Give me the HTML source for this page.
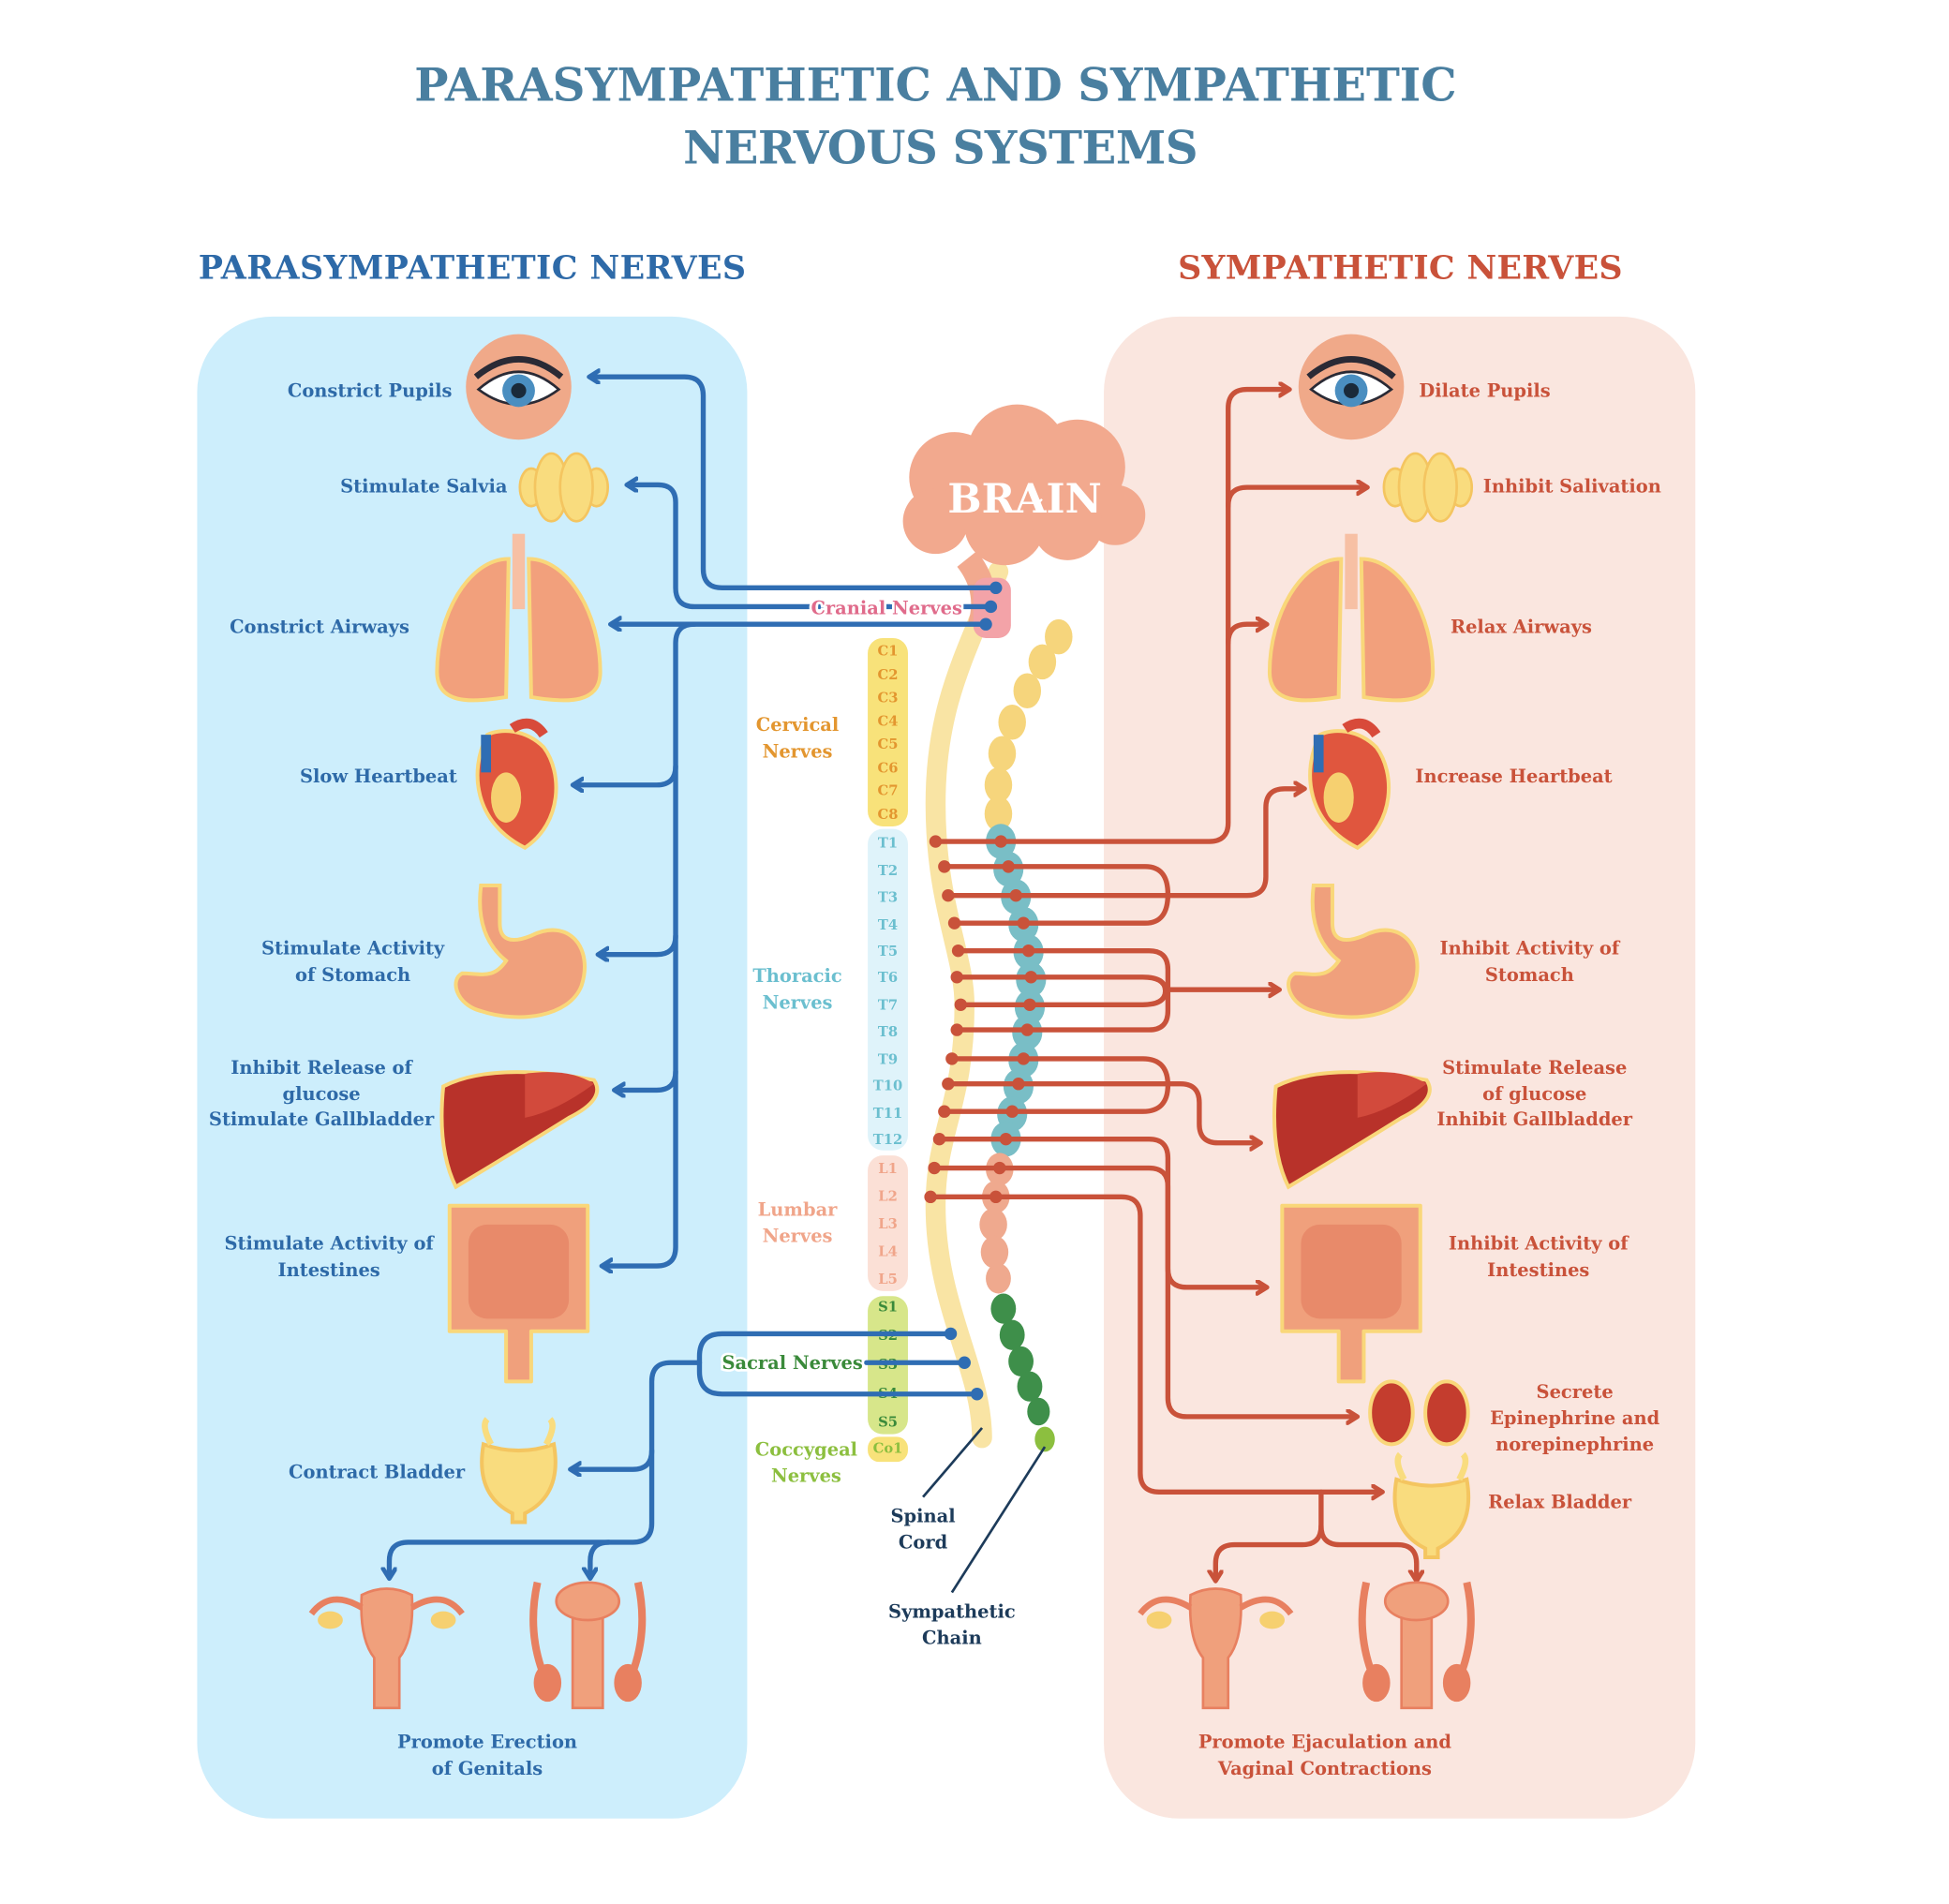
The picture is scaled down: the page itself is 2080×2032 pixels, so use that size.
<!DOCTYPE html>
<html><head><meta charset="utf-8"><style>
html,body{margin:0;padding:0;background:#fff}
svg{display:block}
text{font-family:"DejaVu Serif","Liberation Serif",serif;font-weight:bold}
.lb{fill:#2e6aa8;font-size:14.5px}
.lr{fill:#c9523a;font-size:14.5px}
.bl{fill:none;stroke:#2f6db3;stroke-width:4;stroke-linecap:round;stroke-linejoin:round}
.rd{fill:none;stroke:#c9523a;stroke-width:4;stroke-linecap:round;stroke-linejoin:round}
.vt{font-size:11px;text-anchor:middle}
</style></head><body>
<svg width="2080" height="2032" viewBox="0 0 1552 1516" xmlns="http://www.w3.org/2000/svg">
<defs>
<marker id="ab" markerWidth="14" markerHeight="14" refX="8" refY="6" orient="auto" markerUnits="userSpaceOnUse"><path d="M1,1 L9,6 L1,11" fill="none" stroke="#2f6db3" stroke-width="3.5" stroke-linecap="round" stroke-linejoin="round"/></marker>
<marker id="ar" markerWidth="14" markerHeight="14" refX="8" refY="6" orient="auto" markerUnits="userSpaceOnUse"><path d="M1,1 L9,6 L1,11" fill="none" stroke="#c9523a" stroke-width="3.5" stroke-linecap="round" stroke-linejoin="round"/></marker>
</defs>
<rect width="1552" height="1516" fill="#fff"/>
<text x="745" y="80" text-anchor="middle" font-size="36" fill="#4a7fa0" textLength="830">PARASYMPATHETIC AND SYMPATHETIC</text>
<text x="749" y="130" text-anchor="middle" font-size="36" fill="#4a7fa0" textLength="410">NERVOUS SYSTEMS</text>
<text x="376" y="222" text-anchor="middle" font-size="26" fill="#2e6aa8" textLength="436">PARASYMPATHETIC NERVES</text>
<text x="1115" y="222" text-anchor="middle" font-size="26" fill="#c9523a" textLength="354">SYMPATHETIC NERVES</text>
<rect x="157" y="252" width="438" height="1196" rx="60" fill="#cdeefc"/>
<rect x="879" y="252" width="471" height="1196" rx="60" fill="#fae6df"/>

<rect x="691" y="508" width="32" height="150" rx="12" fill="#f8e27a"/>
<rect x="691" y="660" width="32" height="256" rx="12" fill="#dff3fa"/>
<rect x="691" y="920" width="32" height="108" rx="12" fill="#fbe0d6"/>
<rect x="691" y="1032" width="32" height="110" rx="12" fill="#d7e68a"/>
<rect x="691" y="1144" width="32" height="20" rx="9" fill="#f8e27a"/>
<g class="vt" fill="#e3962f">
<text x="707" y="522">C1</text><text x="707" y="541">C2</text><text x="707" y="559">C3</text><text x="707" y="578">C4</text><text x="707" y="596">C5</text><text x="707" y="615">C6</text><text x="707" y="633">C7</text><text x="707" y="652">C8</text></g>
<g class="vt" fill="#6bbfcf">
<text x="707" y="675">T1</text><text x="707" y="697">T2</text><text x="707" y="718">T3</text><text x="707" y="740">T4</text><text x="707" y="761">T5</text><text x="707" y="782">T6</text><text x="707" y="804">T7</text><text x="707" y="825">T8</text><text x="707" y="847">T9</text><text x="707" y="868">T10</text><text x="707" y="890">T11</text><text x="707" y="911">T12</text></g>
<g class="vt" fill="#f0a58a">
<text x="707" y="934">L1</text><text x="707" y="956">L2</text><text x="707" y="978">L3</text><text x="707" y="1000">L4</text><text x="707" y="1022">L5</text></g>
<g class="vt" fill="#3a8a3a">
<text x="707" y="1044">S1</text><text x="707" y="1067">S2</text><text x="707" y="1090">S3</text><text x="707" y="1113">S4</text><text x="707" y="1136">S5</text></g>
<text x="707" y="1157" class="vt" fill="#8cbf3f">Co1</text>

<text x="635" y="582" text-anchor="middle" font-size="14.5" fill="#e3962f">Cervical</text>
<text x="635" y="603" text-anchor="middle" font-size="14.5" fill="#e3962f">Nerves</text>
<text x="635" y="782" text-anchor="middle" font-size="14.5" fill="#6bbfcf">Thoracic</text>
<text x="635" y="803" text-anchor="middle" font-size="14.5" fill="#6bbfcf">Nerves</text>
<text x="635" y="968" text-anchor="middle" font-size="14.5" fill="#f0a58a">Lumbar</text>
<text x="635" y="989" text-anchor="middle" font-size="14.5" fill="#f0a58a">Nerves</text>
<text x="642" y="1159" text-anchor="middle" font-size="14.5" fill="#8cbf3f">Coccygeal</text>
<text x="642" y="1180" text-anchor="middle" font-size="14.5" fill="#8cbf3f">Nerves</text>

<path d="M795 455 C770 520 745 560 745 640 C745 720 768 760 768 800 C768 880 745 900 745 960 C745 1040 782 1090 782 1145" fill="none" stroke="#f9e4a4" stroke-width="16" stroke-linecap="round"/>
<g>
<g fill="#f6d57c">
<ellipse cx="843" cy="507" rx="11" ry="14"/><ellipse cx="830" cy="527" rx="11" ry="14"/><ellipse cx="818" cy="550" rx="11" ry="14"/><ellipse cx="806" cy="575" rx="11" ry="14"/><ellipse cx="798" cy="600" rx="11" ry="14"/><ellipse cx="795" cy="625" rx="11" ry="14"/><ellipse cx="795" cy="648" rx="11" ry="14"/></g>
<g fill="#79bec6">
<ellipse cx="797" cy="670" rx="12" ry="14"/><ellipse cx="803" cy="692" rx="12" ry="14"/><ellipse cx="809" cy="714" rx="12" ry="14"/><ellipse cx="815" cy="736" rx="12" ry="14"/><ellipse cx="819" cy="758" rx="12" ry="14"/><ellipse cx="821" cy="780" rx="12" ry="14"/><ellipse cx="820" cy="802" rx="12" ry="14"/><ellipse cx="818" cy="822" rx="12" ry="14"/><ellipse cx="815" cy="844" rx="12" ry="14"/><ellipse cx="811" cy="865" rx="12" ry="14"/><ellipse cx="806" cy="887" rx="12" ry="14"/><ellipse cx="801" cy="907" rx="12" ry="14"/></g>
<g fill="#efa98e">
<ellipse cx="796" cy="931" rx="11" ry="13"/><ellipse cx="793" cy="953" rx="11" ry="13"/><ellipse cx="791" cy="975" rx="11" ry="13"/><ellipse cx="792" cy="997" rx="11" ry="13"/><ellipse cx="795" cy="1018" rx="10" ry="12"/></g>
<g fill="#3e8f4a">
<ellipse cx="799" cy="1042" rx="10" ry="12"/><ellipse cx="806" cy="1063" rx="10" ry="12"/><ellipse cx="813" cy="1084" rx="10" ry="12"/><ellipse cx="820" cy="1104" rx="10" ry="12"/><ellipse cx="827" cy="1124" rx="9" ry="11"/></g>
<ellipse cx="832" cy="1146" rx="8" ry="10" fill="#8cbf3f"/>
</g>

<g fill="#f2a98e">
<circle cx="760" cy="380" r="36"/><circle cx="810" cy="362" r="40"/><circle cx="858" cy="372" r="38"/><circle cx="888" cy="410" r="24"/><circle cx="745" cy="415" r="26"/><circle cx="800" cy="418" r="32"/><circle cx="850" cy="418" r="28"/></g>
<path d="M770 445 Q790 470 780 500" stroke="#f2a98e" stroke-width="20" fill="none"/>
<rect x="775" y="460" width="30" height="48" rx="10" fill="#f3a3a8"/>
<text x="816" y="408" text-anchor="middle" font-size="32" fill="#fff">BRAIN</text>

<path class="bl" d="M793 468 H575 Q560 468 560 453 V315 Q560 300 545 300 H470" marker-end="url(#ab)"/>
<path class="bl" d="M789 483 H553 Q538 483 538 468 V400 Q538 386 524 386 H500" marker-end="url(#ab)"/>
<path class="bl" d="M785 497 H487" marker-end="url(#ab)"/>
<path class="bl" d="M553 497 Q538 497 538 512 V993 Q538 1008 523 1008 H480" marker-end="url(#ab)"/>
<path class="bl" d="M538 610 Q538 625 523 625 H457" marker-end="url(#ab)"/>
<path class="bl" d="M538 745 Q538 760 523 760 H477" marker-end="url(#ab)"/>
<path class="bl" d="M538 853 Q538 868 523 868 H490" marker-end="url(#ab)"/>
<g fill="#2f6db3"><circle cx="793" cy="468" r="5"/><circle cx="789" cy="483" r="5"/><circle cx="785" cy="497" r="5"/></g>
<text x="706" y="489" text-anchor="middle" font-size="14.5" fill="#e06b8b" stroke="#fff" stroke-width="4" paint-order="stroke">Cranial Nerves</text>

<path class="bl" d="M757 1062 H575 Q557 1062 557 1080 V1092 Q557 1110 575 1110 H778"/>
<path class="bl" d="M768 1085 H690"/>
<path class="bl" d="M557 1085 H534 Q519 1085 519 1100 V1213 Q519 1228 504 1228 H325 Q310 1228 310 1243 V1256" marker-end="url(#ab)"/>
<path class="bl" d="M519 1155 Q519 1170 504 1170 H455" marker-end="url(#ab)"/>
<path class="bl" d="M485 1228 Q470 1228 470 1243 V1256" marker-end="url(#ab)"/>
<g fill="#2f6db3"><circle cx="757" cy="1062" r="5"/><circle cx="768" cy="1085" r="5"/><circle cx="778" cy="1110" r="5"/></g>
<text x="631" y="1090" text-anchor="middle" font-size="14.5" fill="#3a8a3a" stroke="#fff" stroke-width="4" paint-order="stroke">Sacral Nerves</text>

<path class="rd" d="M745 670 H963 Q978 670 978 655 V325 Q978 310 993 310 H1026" marker-end="url(#ar)"/>
<path class="rd" d="M978 403 Q978 388 993 388 H1088" marker-end="url(#ar)"/>
<path class="rd" d="M978 512 Q978 497 993 497 H1008" marker-end="url(#ar)"/>
<path class="rd" d="M752 690 H912 Q930 690 930 712 Q930 735 912 735 H760"/>
<path class="rd" d="M755 713 H993 Q1008 713 1008 698 V643 Q1008 628 1023 628 H1038" marker-end="url(#ar)"/>
<path class="rd" d="M763 757 H915 Q930 757 930 772 V805 Q930 820 915 820 H762"/>
<path class="rd" d="M762 778 H910 Q928 778 928 789 Q928 800 910 800 H765"/>
<path class="rd" d="M930 788 H1018" marker-end="url(#ar)"/>
<path class="rd" d="M758 843 H910 Q930 843 930 864 Q930 885 910 885 H752"/>
<path class="rd" d="M755 863 H940 Q955 863 955 878 V895 Q955 910 970 910 H1003" marker-end="url(#ar)"/>
<path class="rd" d="M748 907 H915 Q930 907 930 922 V1010 Q930 1025 945 1025 H1008" marker-end="url(#ar)"/>
<path class="rd" d="M744 930 H915 Q930 930 930 945 V1113 Q930 1128 945 1128 H1080" marker-end="url(#ar)"/>
<path class="rd" d="M741 953 H893 Q908 953 908 968 V1173 Q908 1188 923 1188 H1100" marker-end="url(#ar)"/>
<path class="rd" d="M1052 1188 V1215 Q1052 1230 1037 1230 H983 Q968 1230 968 1245 V1258" marker-end="url(#ar)"/>
<path class="rd" d="M1052 1215 Q1052 1230 1067 1230 H1113 Q1128 1230 1128 1245 V1258" marker-end="url(#ar)"/>
<g fill="#c9523a">
<circle cx="745" cy="670" r="5"/><circle cx="797" cy="670" r="5"/>
<circle cx="752" cy="690" r="5"/><circle cx="803" cy="690" r="5"/>
<circle cx="755" cy="713" r="5"/><circle cx="809" cy="713" r="5"/>
<circle cx="760" cy="735" r="5"/><circle cx="815" cy="735" r="5"/>
<circle cx="763" cy="757" r="5"/><circle cx="819" cy="757" r="5"/>
<circle cx="762" cy="778" r="5"/><circle cx="821" cy="778" r="5"/>
<circle cx="765" cy="800" r="5"/><circle cx="820" cy="800" r="5"/>
<circle cx="762" cy="820" r="5"/><circle cx="818" cy="820" r="5"/>
<circle cx="758" cy="843" r="5"/><circle cx="815" cy="843" r="5"/>
<circle cx="755" cy="863" r="5"/><circle cx="811" cy="863" r="5"/>
<circle cx="752" cy="885" r="5"/><circle cx="806" cy="885" r="5"/>
<circle cx="748" cy="907" r="5"/><circle cx="801" cy="907" r="5"/>
<circle cx="744" cy="930" r="5"/><circle cx="796" cy="930" r="5"/>
<circle cx="741" cy="953" r="5"/><circle cx="793" cy="953" r="5"/></g>

<path d="M735 1192 L782 1137 M758 1268 L832 1152" stroke="#1d3b5a" stroke-width="2"/>
<text x="735" y="1212" text-anchor="middle" font-size="14.5" fill="#1d3b5a">Spinal</text>
<text x="735" y="1233" text-anchor="middle" font-size="14.5" fill="#1d3b5a">Cord</text>
<text x="758" y="1288" text-anchor="middle" font-size="14.5" fill="#1d3b5a">Sympathetic</text>
<text x="758" y="1309" text-anchor="middle" font-size="14.5" fill="#1d3b5a">Chain</text>

<defs>
<g id="eye"><circle r="42" fill="#f0a989"/><path d="M-32 2 Q0 -26 32 2 Q0 26 -32 2Z" fill="#fff" stroke="#2a2a35" stroke-width="2"/><circle cx="0" cy="3" r="13" fill="#4a8ec0"/><circle cx="0" cy="3" r="6" fill="#1a2a3a"/><path d="M-34 -8 Q0 -36 34 -8" stroke="#2a2a35" stroke-width="5" fill="none"/></g>
<g id="sal" fill="#f9dc7e" stroke="#f4c560" stroke-width="2"><ellipse cx="-26" cy="0" rx="9" ry="15"/><ellipse cx="26" cy="0" rx="9" ry="15"/><ellipse cx="-10" cy="0" rx="13" ry="27"/><ellipse cx="10" cy="0" rx="13" ry="27"/></g>
<g id="lung"><path d="M-8 -55 C-40 -55 -65 -10 -65 35 C-65 60 -40 60 -10 55 Z" fill="#f2a07c" stroke="#f9d77a" stroke-width="3"/><path d="M8 -55 C40 -55 65 -10 65 35 C65 60 40 60 10 55 Z" fill="#f2a07c" stroke="#f9d77a" stroke-width="3"/><rect x="-5" y="-75" width="10" height="60" fill="#f7c0a4"/></g>
<g id="heart"><path d="M-25 -40 C-40 -10 -35 30 5 50 C35 30 35 -10 20 -30 C5 -45 -15 -45 -25 -40Z" fill="#e0563e" stroke="#f9d77a" stroke-width="3"/><rect x="-30" y="-40" width="8" height="30" fill="#2f6db3"/><path d="M-5 -45 Q10 -55 20 -40" stroke="#d84a3a" stroke-width="8" fill="none"/><ellipse cx="-10" cy="10" rx="12" ry="20" fill="#f6d070"/></g>
<g id="stom"><path d="M-15 -50 V-20 Q-15 0 10 -10 C40 -25 60 0 50 30 C40 55 0 60 -30 50 C-50 45 -55 25 -45 20 C-30 20 -20 25 -10 10 Q-35 -10 -30 -50Z" fill="#f0a07c" stroke="#f9d77a" stroke-width="3"/></g>
<g id="liver"><path d="M-60 -20 Q-20 -40 60 -25 Q70 -10 40 5 Q0 30 -50 60 Q-65 30 -60 -20Z" fill="#b8322a" stroke="#f9d77a" stroke-width="3"/><path d="M5 -30 Q40 -35 60 -22 Q30 0 5 5Z" fill="#d24a3c"/></g>
<g id="intest"><path d="M-55 -60 H55 V40 H10 V80 H-10 V40 H-55Z" fill="#f0a07c" stroke="#f9d77a" stroke-width="3" stroke-linejoin="round"/><rect x="-40" y="-45" width="80" height="75" rx="15" fill="#e88a6a"/></g>
<g id="blad"><path d="M-28 -20 Q0 -10 28 -20 Q35 20 5 35 V42 H-5 V35 Q-35 20 -28 -20Z" fill="#f9dc7e" stroke="#f4c560" stroke-width="3"/><path d="M-22 -20 Q-30 -35 -25 -40 M22 -20 Q30 -35 25 -40" stroke="#f9dc7e" stroke-width="5" fill="none"/></g>
<g id="fem"><path d="M-20 -35 Q0 -45 20 -35 Q22 0 10 15 V55 H-10 V15 Q-22 0 -20 -35Z" fill="#f0a07c" stroke="#e88060" stroke-width="2"/><path d="M-20 -25 Q-45 -40 -60 -20 M20 -25 Q45 -40 60 -20" stroke="#e88060" stroke-width="5" fill="none"/><ellipse cx="-45" cy="-15" rx="10" ry="7" fill="#f6d070"/><ellipse cx="45" cy="-15" rx="10" ry="7" fill="#f6d070"/></g>
<g id="male"><path d="M-40 -45 Q-50 0 -30 40 M40 -45 Q50 0 30 40" stroke="#e88060" stroke-width="6" fill="none"/><path d="M-12 -35 H12 V55 H-12Z" fill="#f0a07c" stroke="#e88060" stroke-width="2"/><ellipse cx="-32" cy="35" rx="11" ry="15" fill="#e88060"/><ellipse cx="32" cy="35" rx="11" ry="15" fill="#e88060"/><ellipse cx="0" cy="-30" rx="25" ry="15" fill="#f0a07c" stroke="#e88060" stroke-width="2"/></g>
<g id="kid"><ellipse cx="-22" cy="0" rx="17" ry="25" fill="#c43d2e" stroke="#f9d77a" stroke-width="3"/><ellipse cx="22" cy="0" rx="17" ry="25" fill="#c43d2e" stroke="#f9d77a" stroke-width="3"/></g>
</defs>
<use href="#eye" x="413" y="308"/><use href="#eye" x="1076" y="308"/>
<use href="#sal" x="449" y="388"/><use href="#sal" x="1137" y="388"/>
<use href="#lung" x="413" y="500"/><use href="#lung" x="1076" y="500"/>
<use href="#heart" x="413" y="625"/><use href="#heart" x="1076" y="625"/>
<use href="#stom" x="413" y="755"/><use href="#stom" x="1076" y="755"/>
<use href="#liver" x="413" y="885"/><use href="#liver" x="1076" y="885"/>
<use href="#intest" x="413" y="1020"/><use href="#intest" x="1076" y="1020"/>
<use href="#blad" x="413" y="1170"/><use href="#kid" x="1130" y="1125"/><use href="#blad" x="1140" y="1198"/>
<use href="#fem" x="308" y="1305"/><use href="#male" x="468" y="1305"/>
<use href="#fem" x="968" y="1305"/><use href="#male" x="1128" y="1305"/>

<text class="lb" x="360" y="316" text-anchor="end">Constrict Pupils</text>
<text class="lb" x="404" y="392" text-anchor="end">Stimulate Salvia</text>
<text class="lb" x="326" y="504" text-anchor="end">Constrict Airways</text>
<text class="lb" x="364" y="623" text-anchor="end">Slow Heartbeat</text>
<text class="lb" x="281" y="760" text-anchor="middle">Stimulate Activity</text>
<text class="lb" x="281" y="781" text-anchor="middle">of Stomach</text>
<text class="lb" x="256" y="855" text-anchor="middle">Inhibit Release of</text>
<text class="lb" x="256" y="876" text-anchor="middle">glucose</text>
<text class="lb" x="256" y="896" text-anchor="middle">Stimulate Gallbladder</text>
<text class="lb" x="262" y="995" text-anchor="middle">Stimulate Activity of</text>
<text class="lb" x="262" y="1016" text-anchor="middle">Intestines</text>
<text class="lb" x="300" y="1177" text-anchor="middle">Contract Bladder</text>
<text class="lb" x="388" y="1392" text-anchor="middle">Promote Erection</text>
<text class="lb" x="388" y="1413" text-anchor="middle">of Genitals</text>
<text class="lr" x="1130" y="316">Dilate Pupils</text>
<text class="lr" x="1181" y="392">Inhibit Salivation</text>
<text class="lr" x="1155" y="504">Relax Airways</text>
<text class="lr" x="1127" y="623">Increase Heartbeat</text>
<text class="lr" x="1218" y="760" text-anchor="middle">Inhibit Activity of</text>
<text class="lr" x="1218" y="781" text-anchor="middle">Stomach</text>
<text class="lr" x="1222" y="855" text-anchor="middle">Stimulate Release</text>
<text class="lr" x="1222" y="876" text-anchor="middle">of glucose</text>
<text class="lr" x="1222" y="896" text-anchor="middle">Inhibit Gallbladder</text>
<text class="lr" x="1225" y="995" text-anchor="middle">Inhibit Activity of</text>
<text class="lr" x="1225" y="1016" text-anchor="middle">Intestines</text>
<text class="lr" x="1254" y="1113" text-anchor="middle">Secrete</text>
<text class="lr" x="1254" y="1134" text-anchor="middle">Epinephrine and</text>
<text class="lr" x="1254" y="1155" text-anchor="middle">norepinephrine</text>
<text class="lr" x="1185" y="1201">Relax Bladder</text>
<text class="lr" x="1055" y="1392" text-anchor="middle">Promote Ejaculation and</text>
<text class="lr" x="1055" y="1413" text-anchor="middle">Vaginal Contractions</text>
</svg>
</body></html>
